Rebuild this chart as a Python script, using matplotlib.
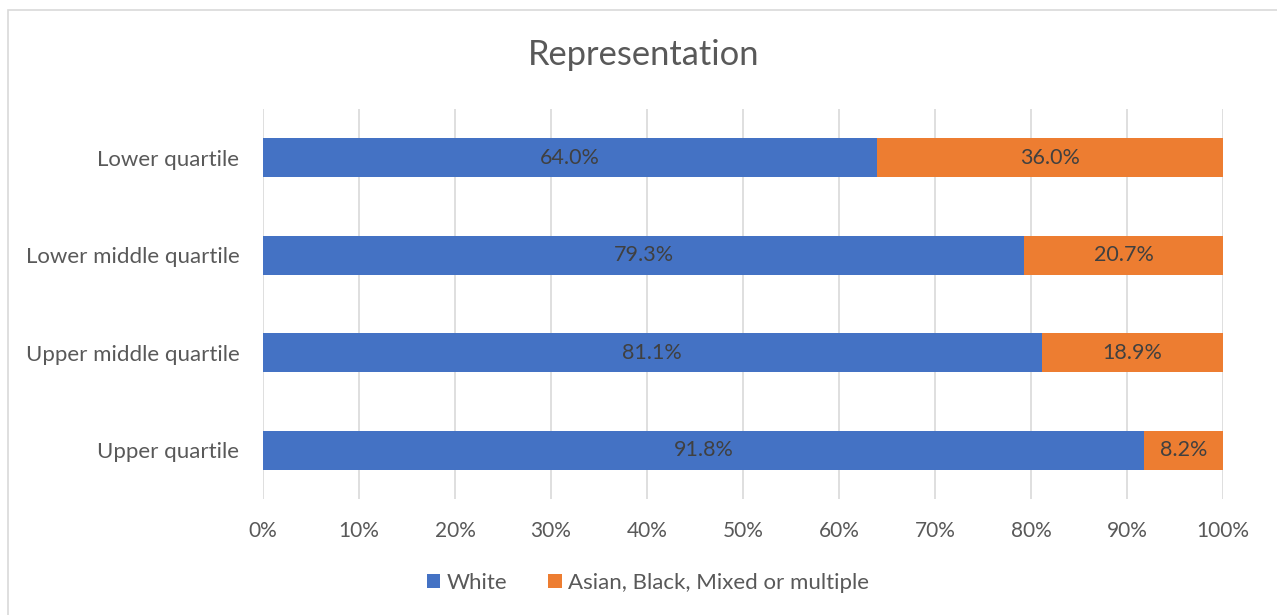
import numpy as np
import matplotlib
matplotlib.use('Agg')
import matplotlib.pyplot as plt
from matplotlib.patches import Rectangle
from matplotlib.ticker import FuncFormatter

# Donnees
categories = ['Upper quartile', 'Upper middle quartile', 'Lower middle quartile', 'Lower quartile']
white = [91.8, 81.1, 79.3, 64.0]
other = [8.2, 18.9, 20.7, 36.0]
series_names = ['White', 'Asian, Black, Mixed or multiple']

grey = '#595959'
plt.rcParams['font.family'] = ['Lato', 'DejaVu Sans']

fig = plt.figure(figsize=(12.77, 6.15), dpi=100)
ax = fig.add_axes([263 / 1277, 1 - 499 / 615, 960 / 1277, 390 / 615])

# Cadre du graphique
fig.patches.append(Rectangle((8 / 1277, -0.1), 1.2, 1 - 10 / 615 + 0.1,
                             transform=fig.transFigure, fill=False,
                             edgecolor='#d9d9d9', linewidth=1.2))

y = np.arange(len(categories))
b1 = ax.barh(y, white, height=0.4, color='#4472c4', label=series_names[0], zorder=3)
b2 = ax.barh(y, other, left=white, height=0.4, color='#ed7d31', label=series_names[1], zorder=3)

for bars, vals in ((b1, white), (b2, other)):
    for rect, v in zip(bars, vals):
        cx = rect.get_x() + rect.get_width() / 2
        cy = rect.get_y() + rect.get_height() / 2
        ax.text(cx, cy, f'{v:.1f}%', ha='center', va='center',
                fontsize=15.5, color='#404040', zorder=4)

ax.set_xlim(0, 100)
ax.set_ylim(-0.5, len(categories) - 0.5)
ax.set_xticks(np.arange(0, 101, 10))
ax.xaxis.set_major_formatter(FuncFormatter(lambda v, p: f'{v:.0f}%'))
ax.set_yticks(y)
ax.set_yticklabels(categories)
ax.tick_params(axis='both', length=0, labelcolor=grey)
ax.tick_params(axis='x', pad=16, labelsize=15)
ax.tick_params(axis='y', pad=17, labelsize=16)
ax.grid(axis='x', color='#d9d9d9', linewidth=1.2, zorder=0)
for s in ax.spines.values():
    s.set_visible(False)

fig.text(644 / 1277, 1 - 55 / 615, 'Representation', ha='center', va='center',
         fontsize=24.8, color=grey)

fig.legend(loc='center', bbox_to_anchor=(648 / 1277, 1 - 583 / 615), ncol=2, frameon=False,
           fontsize=16, labelcolor=grey, handlelength=0.6, handleheight=0.6,
           handletextpad=0.3, columnspacing=1.85)

fig.savefig('out.png', dpi=100)
